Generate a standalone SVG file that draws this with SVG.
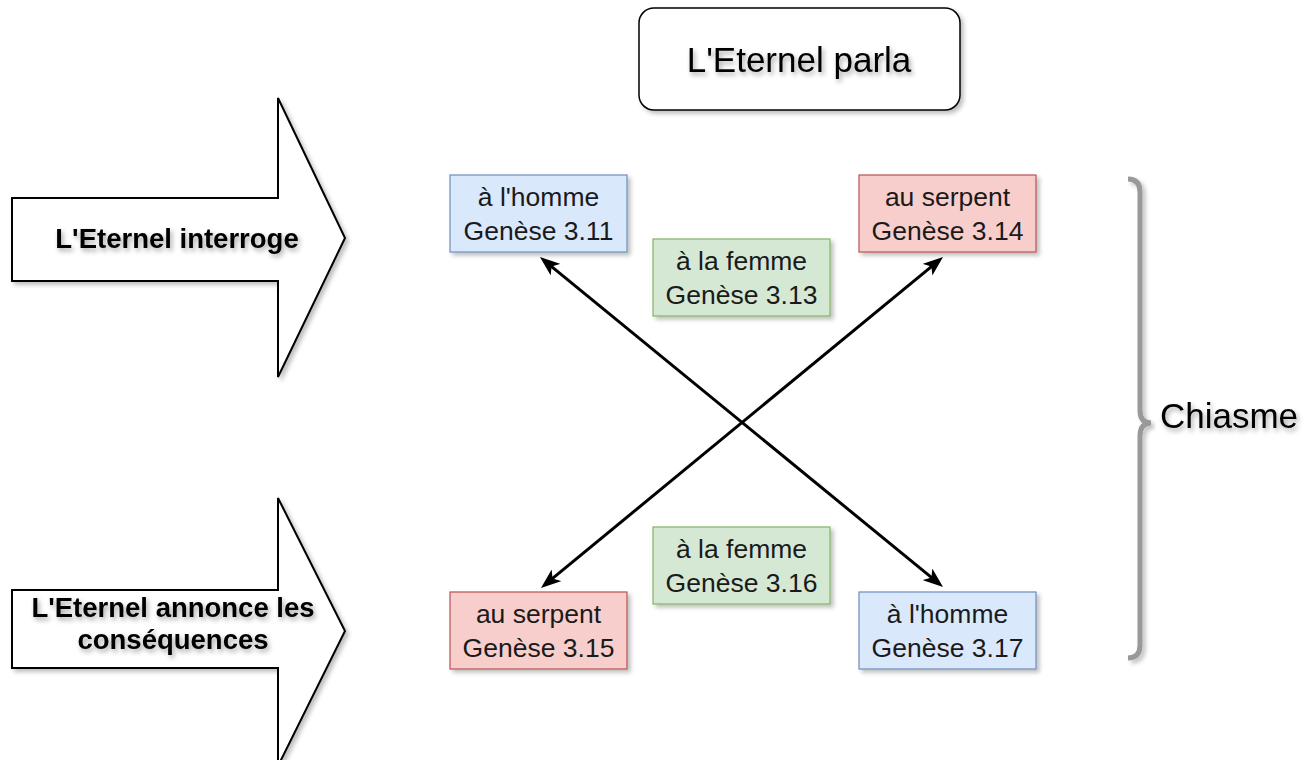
<svg xmlns="http://www.w3.org/2000/svg" width="1311" height="760" viewBox="0 0 1311 760">
<style>
.t{font-family:"Liberation Sans",Arial,sans-serif;fill:#1a1a1a;text-anchor:middle}
.n{font-size:26.5px}
.b{font-size:27.5px;font-weight:bold;fill:#000}
.big{font-size:35px;fill:#000}
.blue{fill:#dae8fc;stroke:#6c8ebf;stroke-width:1.2}
.green{fill:#d5e8d4;stroke:#82b366;stroke-width:1.2}
.red{fill:#f8cecc;stroke:#b85450;stroke-width:1.2}
.edge{stroke:#000;stroke-width:3;fill:none}
</style>
<defs>
<filter id="sh" x="-10%" y="-10%" width="130%" height="130%">
<feDropShadow dx="3" dy="3" stdDeviation="2" flood-color="#000" flood-opacity="0.25"/>
</filter>
<filter id="ts" x="-10%" y="-30%" width="130%" height="170%">
<feDropShadow dx="2" dy="3" stdDeviation="2.5" flood-color="#000" flood-opacity="0.35"/>
</filter>
<marker id="ah" viewBox="0 0 20 15" markerWidth="20" markerHeight="15" refX="14" refY="7.5" orient="auto-start-reverse" markerUnits="userSpaceOnUse">
<path d="M0,0 L20,7.5 L0,15 L5,7.5 Z" fill="#000"/>
</marker>
</defs>
<rect width="1311" height="760" fill="#fff"/>

<g id="arrow-interroge">
<polygon points="12,198 278,198 278,98 345,238 278,377 278,281 12,281" fill="#fff" stroke="#000" stroke-width="2" filter="url(#sh)"/>
<text class="t b" x="177" y="248" filter="url(#ts)">L'Eternel interroge</text>
</g>

<g id="arrow-consequences">
<polygon points="12,590 278,590 278,498 345,631 278,766 278,668 12,668" fill="#fff" stroke="#000" stroke-width="2" filter="url(#sh)"/>
<text class="t b" x="173" y="617" filter="url(#ts)">L'Eternel annonce les</text>
<text class="t b" x="173" y="649" filter="url(#ts)">conséquences</text>
</g>

<g id="parla">
<rect x="639" y="8" width="321" height="102" rx="15" fill="#fff" stroke="#000" stroke-width="1.5" filter="url(#sh)"/>
<text class="t big" x="799" y="72" filter="url(#ts)">L'Eternel parla</text>
</g>

<g id="connectors">
<line class="edge" x1="544.6" y1="260.8" x2="938.4" y2="583.2" marker-start="url(#ah)" marker-end="url(#ah)"/>
<line class="edge" x1="938.4" y1="260.8" x2="545.6" y2="584.2" marker-start="url(#ah)" marker-end="url(#ah)"/>
</g>

<g id="homme-311">
<rect class="blue" x="450" y="175" width="177" height="77" filter="url(#sh)"/>
<text class="t n" x="538.5" y="206">à l'homme</text>
<text class="t n" x="538.5" y="240">Genèse 3.11</text>
</g>

<g id="femme-313">
<rect class="green" x="653" y="239" width="177" height="77" filter="url(#sh)"/>
<text class="t n" x="741.5" y="270">à la femme</text>
<text class="t n" x="741.5" y="304">Genèse 3.13</text>
</g>

<g id="serpent-314">
<rect class="red" x="859" y="175" width="177" height="77" filter="url(#sh)"/>
<text class="t n" x="947.5" y="206">au serpent</text>
<text class="t n" x="947.5" y="240">Genèse 3.14</text>
</g>

<g id="femme-316">
<rect class="green" x="653" y="527" width="177" height="77" filter="url(#sh)"/>
<text class="t n" x="741.5" y="558">à la femme</text>
<text class="t n" x="741.5" y="592">Genèse 3.16</text>
</g>

<g id="serpent-315">
<rect class="red" x="450" y="592" width="177" height="77" filter="url(#sh)"/>
<text class="t n" x="538.5" y="623">au serpent</text>
<text class="t n" x="538.5" y="657">Genèse 3.15</text>
</g>

<g id="homme-317">
<rect class="blue" x="859" y="592" width="177" height="77" filter="url(#sh)"/>
<text class="t n" x="947.5" y="623">à l'homme</text>
<text class="t n" x="947.5" y="657">Genèse 3.17</text>
</g>

<g id="chiasme">
<path d="M1128,179 Q1140,179 1140,192 L1140,410 Q1140,423 1151,423 Q1140,423 1140,436 L1140,645 Q1140,658 1128,658" fill="none" stroke="#999" stroke-width="5" filter="url(#sh)"/>
<text class="t big" x="1229" y="428" style="fill:#000" filter="url(#ts)">Chiasme</text>
</g>
</svg>
